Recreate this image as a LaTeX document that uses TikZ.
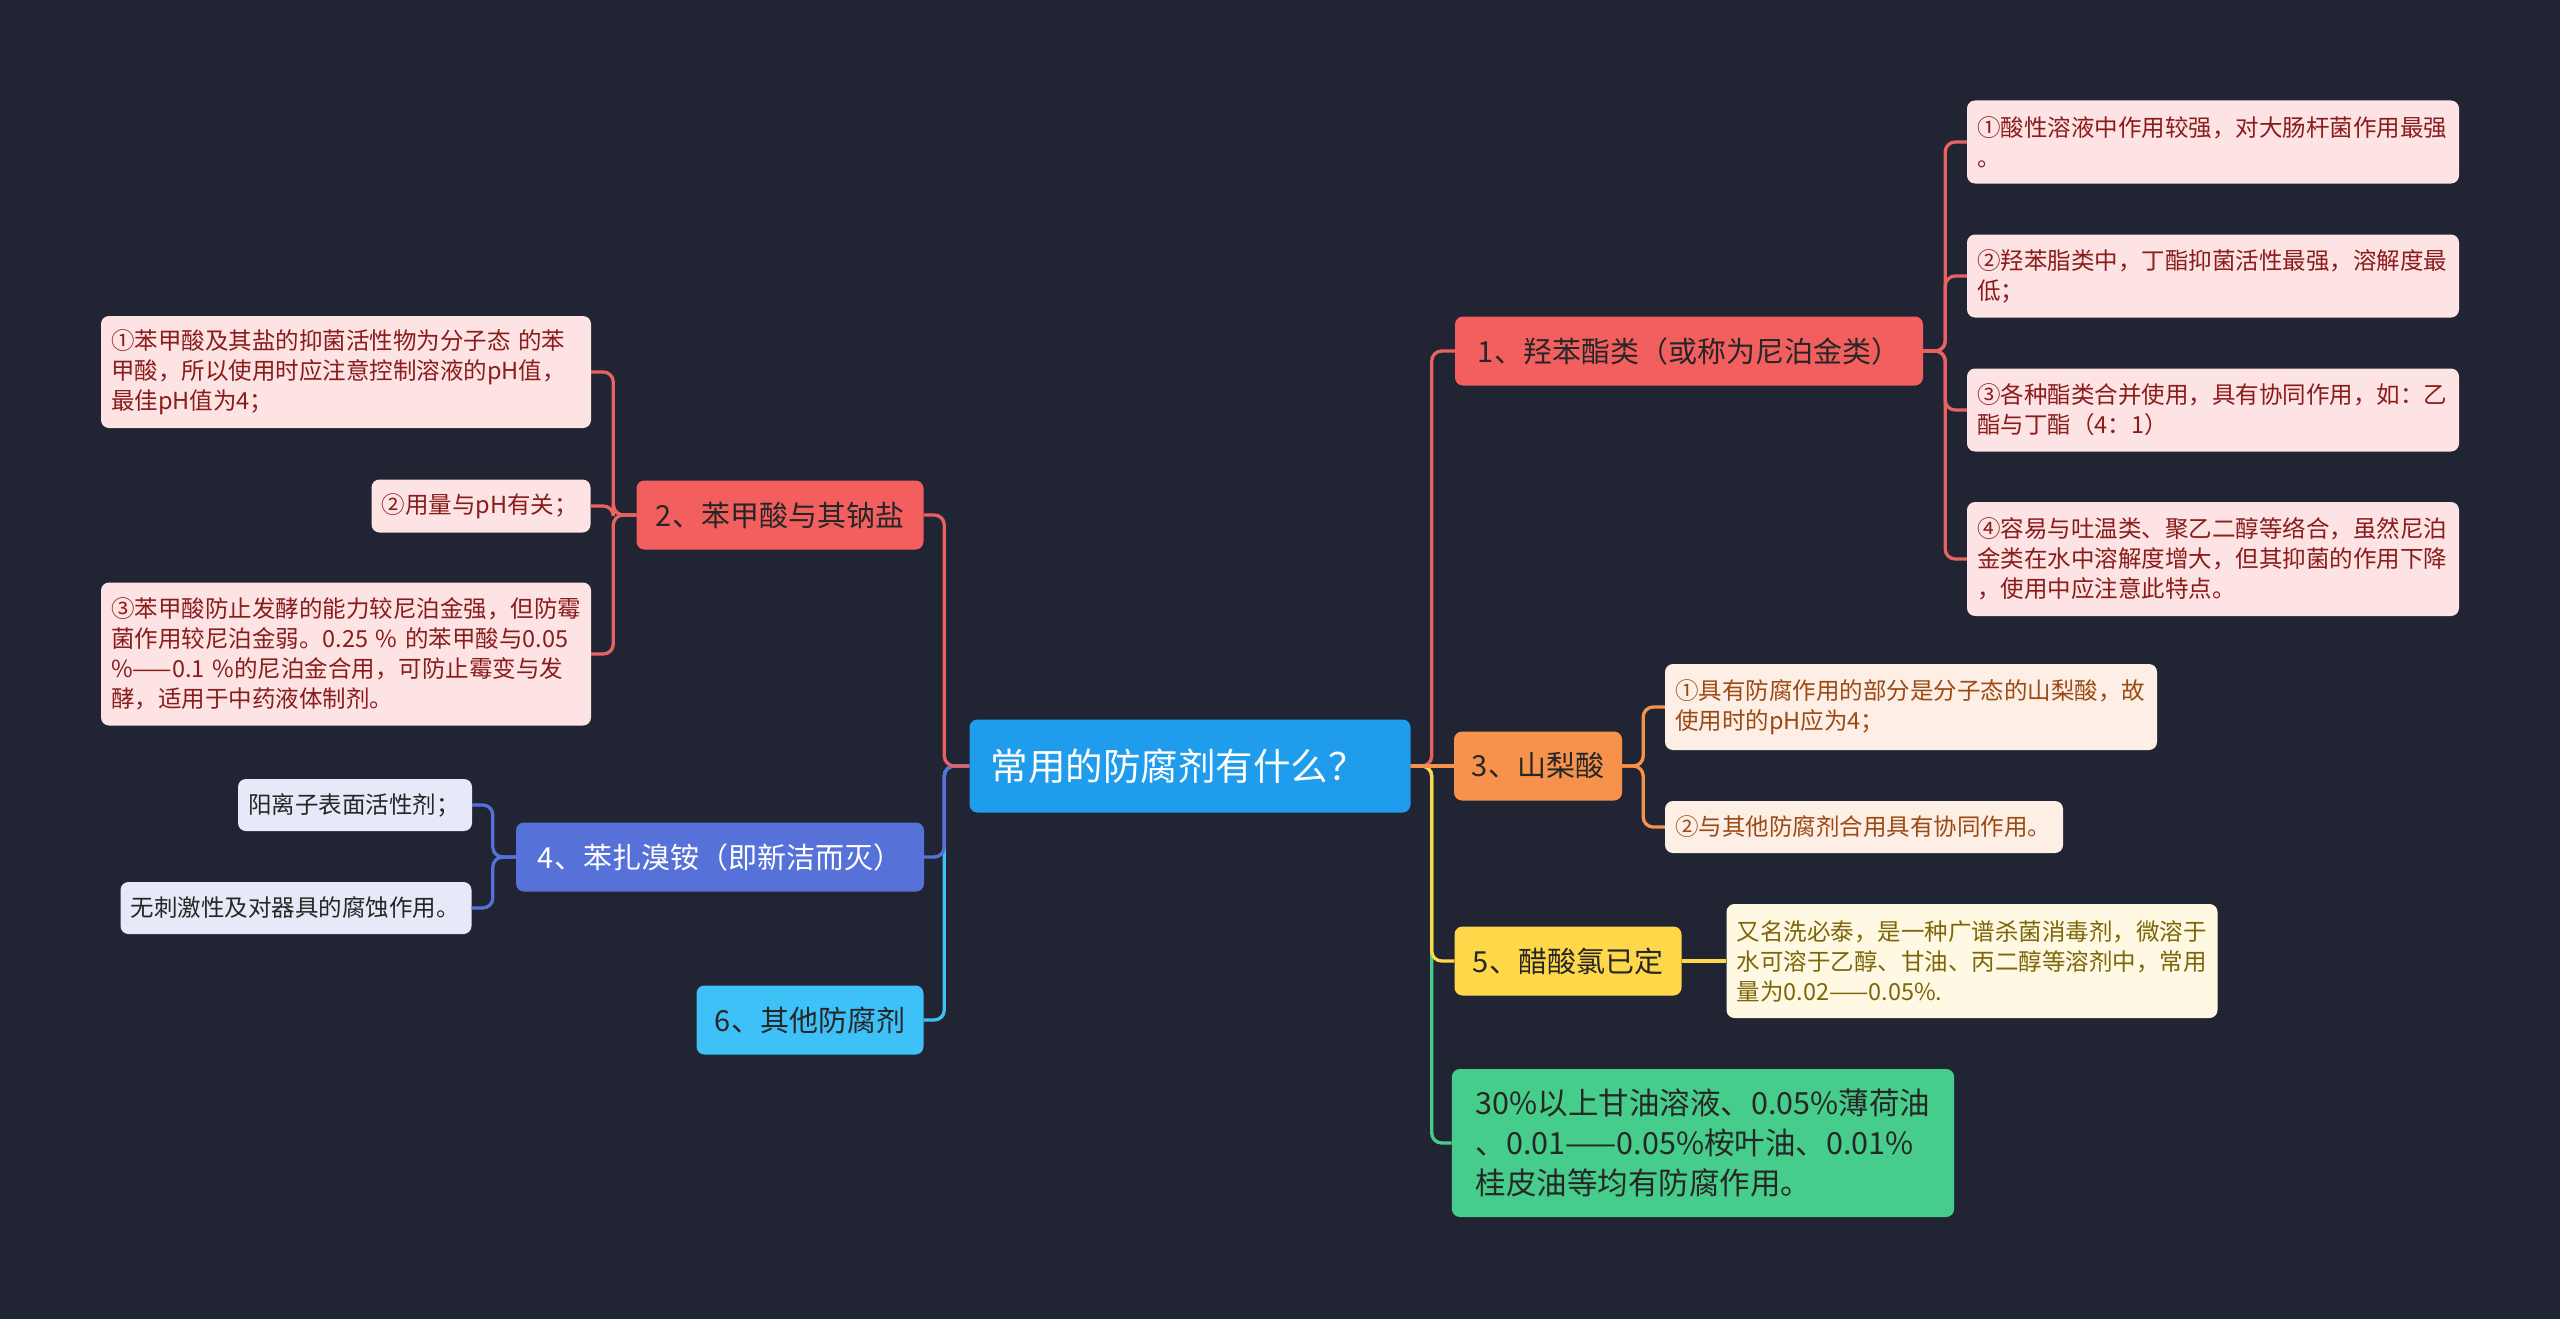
\documentclass[tikz,border=0pt]{standalone}
\usepackage{fontspec}
\setmainfont{Noto Sans CJK SC}
\definecolor{bg}{HTML}{212533}
\definecolor{cblue}{HTML}{1F9CEB}
\definecolor{cred}{HTML}{F35F5F}
\definecolor{credl}{HTML}{FDE3E3}
\definecolor{credt}{HTML}{8A1C1C}
\definecolor{lred}{HTML}{E86262}
\definecolor{corg}{HTML}{F7924D}
\definecolor{corgl}{HTML}{FDEEE6}
\definecolor{corgt}{HTML}{9C4A14}
\definecolor{cyel}{HTML}{FFD84A}
\definecolor{cyell}{HTML}{FFF9E3}
\definecolor{cyelt}{HTML}{7D6608}
\definecolor{cgrn}{HTML}{46CD8B}
\definecolor{cind}{HTML}{5671D8}
\definecolor{cindl}{HTML}{E6E9F7}
\definecolor{csky}{HTML}{3DC1F7}
\begin{document}
\begin{tikzpicture}[x=1pt,y=-1pt,
  box/.style={rounded corners=8pt, inner sep=0pt, draw=none},
  rootbox/.style={box, fill=cblue, text=white, align=left, text width=399pt, inner xsep=21pt,
    minimum height=93pt, font=\fontsize{37.5}{44}\selectfont},
  topbox/.style={box, minimum height=69pt, font=\fontsize{29}{36}\selectfont},
  leaf/.style={box, align=left, inner xsep=10pt, font=\fontsize{23.5}{30}\selectfont},
  conn/.style={line width=3.3pt, rounded corners=10pt},
]
\useasboundingbox (0,0) rectangle (2560,1319);
\fill[bg] (0,0) rectangle (2560,1319);

% root
\node[rootbox] (C) at (1190,766) {常用的防腐剂有什么？};

% right side
\node[topbox, fill=cred, text=black!85, minimum width=468pt] (N1) at (1689,351) {1、羟苯酯类（或称为尼泊金类）};
\node[leaf, fill=credl, text=credt, text width=472pt, minimum height=83pt] (N1a) at (2213,142)
  {①酸性溶液中作用较强，对大肠杆菌作用最强\\。};
\node[leaf, fill=credl, text=credt, text width=472pt, minimum height=83pt] (N1b) at (2213,276)
  {②羟苯脂类中，丁酯抑菌活性最强，溶解度最\\低；};
\node[leaf, fill=credl, text=credt, text width=472pt, minimum height=83pt] (N1c) at (2213,410)
  {③各种酯类合并使用，具有协同作用，如：乙\\酯与丁酯（4：1）};
\node[leaf, fill=credl, text=credt, text width=472pt, minimum height=114pt] (N1d) at (2213,559)
  {④容易与吐温类、聚乙二醇等络合，虽然尼泊\\金类在水中溶解度增大，但其抑菌的作用下降\\，使用中应注意此特点。};

\node[topbox, fill=corg, text=black!85, minimum width=168pt] (N3) at (1538,766) {3、山梨酸};
\node[leaf, fill=corgl, text=corgt, text width=472pt, minimum height=86pt] (N3a) at (1911,707)
  {①具有防腐作用的部分是分子态的山梨酸，故\\使用时的pH应为4；};
\node[leaf, fill=corgl, text=corgt, text width=378pt, minimum height=52pt] (N3b) at (1864,827)
  {②与其他防腐剂合用具有协同作用。};

\node[topbox, fill=cyel, text=black!85, minimum width=227pt] (N5) at (1568,961) {5、醋酸氯已定};
\node[leaf, fill=cyell, text=cyelt, text width=471pt, minimum height=114pt] (N5a) at (1972,961)
  {又名洗必泰，是一种广谱杀菌消毒剂，微溶于\\水可溶于乙醇、甘油、丙二醇等溶剂中，常用\\量为0.02——0.05\%.};

\node[box, fill=cgrn, text=black!85, align=left, inner xsep=24pt, minimum width=498pt, minimum height=148pt,
  font=\fontsize{30.5}{40}\selectfont] (N7) at (1703,1143)
  {30\%以上甘油溶液、0.05\%薄荷油\\、0.01——0.05\%桉叶油、0.01\%\\桂皮油等均有防腐作用。};

% left side
\node[topbox, fill=cred, text=black!85, minimum width=287pt] (N2) at (780,515) {2、苯甲酸与其钠盐};
\node[leaf, fill=credl, text=credt, text width=470pt, minimum height=112pt] (N2a) at (346,372)
  {①苯甲酸及其盐的抑菌活性物为分子态 的苯\\甲酸，所以使用时应注意控制溶液的pH值，\\最佳pH值为4；};
\node[leaf, fill=credl, text=credt, text width=199pt, minimum height=53pt] (N2b) at (481,506)
  {②用量与pH有关；};
\node[leaf, fill=credl, text=credt, text width=470pt, minimum height=143pt] (N2c) at (346,654)
  {③苯甲酸防止发酵的能力较尼泊金强，但防霉\\菌作用较尼泊金弱。0.25 \% 的苯甲酸与0.05\\\%——0.1 \%的尼泊金合用，可防止霉变与发\\酵，适用于中药液体制剂。};

\node[topbox, fill=cind, text=white, minimum width=408pt] (N4) at (720,857) {4、苯扎溴铵（即新洁而灭）};
\node[leaf, fill=cindl, text=black!85, text width=214pt, minimum height=52pt] (N4a) at (355,805)
  {阳离子表面活性剂；};
\node[leaf, fill=cindl, text=black!85, text width=331pt, minimum height=52pt] (N4b) at (296,908)
  {无刺激性及对器具的腐蚀作用。};

\node[topbox, fill=csky, text=black!85, minimum width=227pt] (N6) at (810,1020) {6、其他防腐剂};

% connectors root -> level 1
\draw[conn, draw=csky] (C.west) -- ++(-25,0) |- (N6.east);
\draw[conn, draw=cind] (C.west) -- ++(-25,0) |- (N4.east);
\draw[conn, draw=lred] (C.west) -- ++(-25,0) |- (N2.east);
\draw[conn, draw=cgrn] (C.east) -- ++(21,0) |- (N7.west);
\draw[conn, draw=cyel] (C.east) -- ++(21,0) |- (N5.west);
\draw[conn, draw=lred] (C.east) -- ++(21,0) |- (N1.west);
\draw[conn, draw=corg] (C.east) -- (N3.west);

% level 1 -> leaves
\foreach \t in {N1a,N1b,N1c,N1d}
  \draw[conn, draw=lred] (N1.east) -- ++(22,0) |- (\t.west);
\foreach \t in {N3a,N3b}
  \draw[conn, draw=corg] (N3.east) -- ++(21,0) |- (\t.west);
\draw[conn, draw=cyel] (N5.east) -- (N5a.west);
\foreach \t in {N2a,N2b,N2c}
  \draw[conn, draw=lred] (N2.west) -- ++(-23,0) |- (\t.east);
\foreach \t in {N4a,N4b}
  \draw[conn, draw=cind] (N4.west) -- ++(-23,0) |- (\t.east);
\end{tikzpicture}
\end{document}
